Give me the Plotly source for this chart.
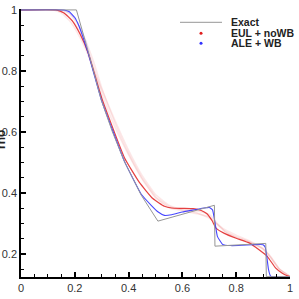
import plotly.graph_objects as go

# ---------------- data ----------------
x_exact = [0.0, 0.206, 0.249, 0.299, 0.34, 0.385, 0.447, 0.509, 0.719, 0.721, 0.91, 0.912, 1.0]
y_exact = [1.0, 1.0, 0.866, 0.703, 0.600, 0.502, 0.393, 0.308, 0.360, 0.226, 0.235, 0.126, 0.126]

x_ale = [0.0, 0.16, 0.18, 0.2, 0.215, 0.233, 0.249, 0.3, 0.385, 0.447, 0.484, 0.51, 0.533,
         0.56, 0.6, 0.65, 0.68, 0.7, 0.712, 0.72, 0.73, 0.749, 0.78, 0.82, 0.86, 0.9, 0.908,
         0.914, 0.92, 0.928, 0.95, 1.0]
y_ale = [1.0, 1.0, 0.994, 0.975, 0.948, 0.904, 0.86, 0.702, 0.503, 0.396, 0.36, 0.338, 0.327,
         0.329, 0.338, 0.346, 0.351, 0.353, 0.345, 0.31, 0.258, 0.232, 0.228, 0.229, 0.231, 0.231, 0.222,
         0.19, 0.15, 0.128, 0.125, 0.125]

x_eul = [0.0, 0.13, 0.16, 0.19, 0.22, 0.25, 0.3, 0.385, 0.44, 0.49, 0.533, 0.56, 0.6, 0.64,
         0.67, 0.69, 0.71, 0.725, 0.756, 0.8, 0.85, 0.885, 0.916, 0.947, 0.97, 0.99, 1.0]
y_eul = [1.0, 1.0, 0.99, 0.965, 0.92, 0.858, 0.712, 0.515, 0.435, 0.382, 0.357, 0.351, 0.35, 0.349,
         0.343, 0.333, 0.31, 0.285, 0.268, 0.252, 0.236, 0.214, 0.192, 0.154, 0.138, 0.129, 0.126]

# fainter EUL + noWB runs (band)
x_eul_a = [0.0, 0.12, 0.15, 0.18, 0.21, 0.24, 0.27, 0.3, 0.35, 0.4, 0.45, 0.5, 0.55, 0.6,
           0.65, 0.7, 0.73, 0.76, 0.8, 0.85, 0.9, 0.93, 0.96, 1.0]
y_eul_a = [1.0, 1.0, 0.99, 0.965, 0.925, 0.872, 0.805, 0.74, 0.637, 0.54, 0.458, 0.395, 0.36, 0.345,
           0.336, 0.318, 0.298, 0.279, 0.262, 0.243, 0.218, 0.188, 0.152, 0.127]

x_eul_b = [0.0, 0.14, 0.17, 0.2, 0.23, 0.26, 0.3, 0.35, 0.4, 0.45, 0.5, 0.55, 0.6, 0.65,
           0.7, 0.73, 0.76, 0.8, 0.85, 0.9, 0.93, 0.96, 1.0]
y_eul_b = [1.0, 1.0, 0.985, 0.955, 0.905, 0.84, 0.728, 0.615, 0.525, 0.446, 0.385, 0.352, 0.342,
           0.333, 0.322, 0.296, 0.274, 0.257, 0.24, 0.217, 0.19, 0.152, 0.127]

x_eul_c = [0.0, 0.15, 0.18, 0.21, 0.24, 0.27, 0.3, 0.35, 0.4, 0.45, 0.5, 0.55, 0.6, 0.65,
           0.7, 0.73, 0.76, 0.8, 0.85, 0.9, 0.93, 0.96, 1.0]
y_eul_c = [1.0, 1.0, 0.988, 0.955, 0.9, 0.83, 0.745, 0.628, 0.53, 0.45, 0.388, 0.356, 0.346,
           0.342, 0.33, 0.3, 0.272, 0.255, 0.238, 0.216, 0.186, 0.15, 0.127]

x_ale_f = [0.0, 0.15, 0.18, 0.21, 0.24, 0.27, 0.3]
y_ale_f = [1.0, 1.0, 0.99, 0.96, 0.9, 0.8, 0.71]

x_ticks = [0, 0.2, 0.4, 0.6, 0.8, 1]
x_tick_text = ["0", "0.2", "0.4", "0.6", "0.8", "1"]
y_ticks = [0.2, 0.4, 0.6, 0.8, 1]
y_tick_text = ["0.2", "0.4", "0.6", "0.8", "1"]

legend_names = ["Exact", "EUL + noWB", "ALE + WB"]
y_title = "rho"

# ---------------- figure ----------------
RED = "rgb(225,30,30)"
BLUE = "rgb(50,50,255)"
GRAY = "rgb(150,150,150)"

fig = go.Figure()
for xs, ys in [(x_eul_a, y_eul_a), (x_eul_b, y_eul_b), (x_eul_c, y_eul_c)]:
    fig.add_trace(go.Scatter(x=xs, y=ys, mode="lines",
                             line=dict(color="rgba(235,100,100,0.15)", width=1.5, shape="spline", smoothing=0.4),
                             showlegend=False, hoverinfo="skip"))
fig.add_trace(go.Scatter(x=x_ale_f, y=y_ale_f, mode="lines",
                         line=dict(color="rgba(90,90,255,0.2)", width=1.2, shape="spline", smoothing=0.4),
                         showlegend=False))
fig.add_trace(go.Scatter(x=x_eul, y=y_eul, mode="lines", name=legend_names[1],
                         line=dict(color="rgba(225,30,30,0.85)", width=1.2, shape="spline", smoothing=0.4),
                         showlegend=False))
fig.add_trace(go.Scatter(x=x_ale, y=y_ale, mode="lines", name=legend_names[2],
                         line=dict(color="rgba(50,50,255,0.9)", width=1.1, shape="spline", smoothing=0.3),
                         showlegend=False))
fig.add_trace(go.Scatter(x=x_exact, y=y_exact, mode="lines", name=legend_names[0],
                         line=dict(color=GRAY, width=1), showlegend=False))

# manual legend
L, B, W, H = 21, 22, 269, 268
def px(xp): return (xp - L) / W
def py(yp): return (299 - B - yp) / H

shapes = [
    dict(type="line", xref="paper", yref="paper", x0=px(180), x1=px(222), y0=py(22.3), y1=py(22.3),
         line=dict(color=GRAY, width=1)),
    dict(type="circle", xref="paper", yref="paper", x0=px(199.5), x1=px(202.5), y0=py(34.8), y1=py(31.8),
         fillcolor=RED, line=dict(width=0)),
    dict(type="circle", xref="paper", yref="paper", x0=px(199.5), x1=px(202.5), y0=py(44.8), y1=py(41.8),
         fillcolor=BLUE, line=dict(width=0)),
]
annos = []
for name, yy in zip(legend_names, [21.7, 33.0, 43.0]):
    annos.append(dict(text="<b>%s</b>" % name, xref="paper", yref="paper", x=px(229), y=py(yy),
                      xanchor="left", yanchor="middle", showarrow=False,
                      font=dict(family="Liberation Sans, Arial", size=10.5, color="#222")))
annos.append(dict(text="<b>%s</b>" % y_title, xref="paper", yref="paper", x=px(1), y=py(140),
                  xanchor="center", yanchor="middle", showarrow=False, textangle=-90,
                  font=dict(family="Liberation Sans, Arial", size=12, color="#222")))

axis_font = dict(family="Liberation Sans, Arial", size=11, color="#333")
fig.update_layout(
    width=299, height=299,
    margin=dict(l=L, r=299 - L - W, t=299 - B - H, b=B, autoexpand=False),
    paper_bgcolor="white", plot_bgcolor="white",
    shapes=shapes, annotations=annos, showlegend=False,
    xaxis=dict(range=[0, 1], tickvals=x_ticks, ticktext=x_tick_text, ticks="inside", ticklen=5,
               tickwidth=1.5, tickcolor="black", showline=True, linecolor="black", linewidth=1.5,
               showgrid=False, zeroline=False, tickfont=axis_font, automargin=False,
               minor=dict(dtick=0.05, ticks="inside", ticklen=3, tickcolor="black", tickwidth=1)),
    yaxis=dict(range=[0.125, 1.003], tickvals=y_ticks, ticktext=y_tick_text, ticks="inside", ticklen=5,
               tickwidth=1.5, tickcolor="black", showline=True, linecolor="black", linewidth=1.5,
               showgrid=False, zeroline=False, tickfont=axis_font, automargin=False,
               minor=dict(tick0=0, dtick=0.05, ticks="inside", ticklen=3, tickcolor="black", tickwidth=1)),
)
fig.write_html("out.html", config={"displayModeBar": False},
               post_script="document.body.style.margin='0';document.body.style.overflow='hidden';")
